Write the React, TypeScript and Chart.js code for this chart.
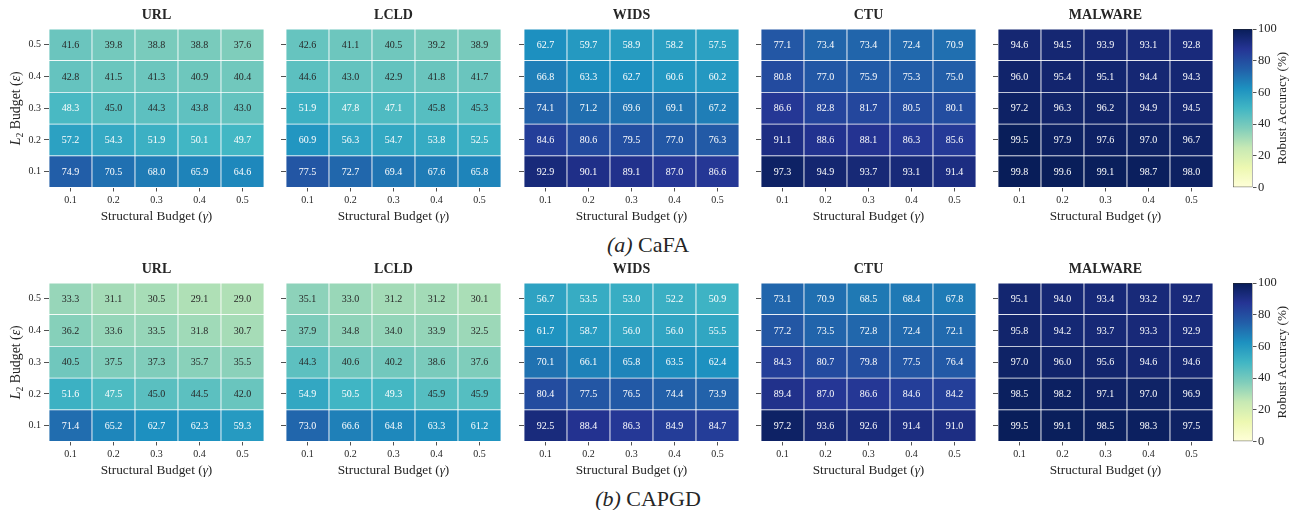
import React, { useEffect, useRef } from "react";
import { Chart, registerables } from "chart.js";

Chart.register(...registerables);

// ---------------- DATA ----------------
const gammaLabels = ["0.1", "0.2", "0.3", "0.4", "0.5"]; // structural budget (x)
const epsLabels = ["0.1", "0.2", "0.3", "0.4", "0.5"]; // L2 budget (y), bottom to top
const datasetNames = ["URL", "LCLD", "WIDS", "CTU", "MALWARE"];
const colorbarTicks = [0, 20, 40, 60, 80, 100];
const attackCaptions = ["CaFA", "CAPGD"];
const captionTags = ["(a)", "(b)"];

// Matrices: rows listed top (eps 0.5) to bottom (eps 0.1); columns gamma 0.1..0.5
const cafaURL = [
  [41.6, 39.8, 38.8, 38.8, 37.6],
  [42.8, 41.5, 41.3, 40.9, 40.4],
  [48.3, 45.0, 44.3, 43.8, 43.0],
  [57.2, 54.3, 51.9, 50.1, 49.7],
  [74.9, 70.5, 68.0, 65.9, 64.6],
];
const cafaLCLD = [
  [42.6, 41.1, 40.5, 39.2, 38.9],
  [44.6, 43.0, 42.9, 41.8, 41.7],
  [51.9, 47.8, 47.1, 45.8, 45.3],
  [60.9, 56.3, 54.7, 53.8, 52.5],
  [77.5, 72.7, 69.4, 67.6, 65.8],
];
const cafaWIDS = [
  [62.7, 59.7, 58.9, 58.2, 57.5],
  [66.8, 63.3, 62.7, 60.6, 60.2],
  [74.1, 71.2, 69.6, 69.1, 67.2],
  [84.6, 80.6, 79.5, 77.0, 76.3],
  [92.9, 90.1, 89.1, 87.0, 86.6],
];
const cafaCTU = [
  [77.1, 73.4, 73.4, 72.4, 70.9],
  [80.8, 77.0, 75.9, 75.3, 75.0],
  [86.6, 82.8, 81.7, 80.5, 80.1],
  [91.1, 88.6, 88.1, 86.3, 85.6],
  [97.3, 94.9, 93.7, 93.1, 91.4],
];
const cafaMALWARE = [
  [94.6, 94.5, 93.9, 93.1, 92.8],
  [96.0, 95.4, 95.1, 94.4, 94.3],
  [97.2, 96.3, 96.2, 94.9, 94.5],
  [99.5, 97.9, 97.6, 97.0, 96.7],
  [99.8, 99.6, 99.1, 98.7, 98.0],
];
const capgdURL = [
  [33.3, 31.1, 30.5, 29.1, 29.0],
  [36.2, 33.6, 33.5, 31.8, 30.7],
  [40.5, 37.5, 37.3, 35.7, 35.5],
  [51.6, 47.5, 45.0, 44.5, 42.0],
  [71.4, 65.2, 62.7, 62.3, 59.3],
];
const capgdLCLD = [
  [35.1, 33.0, 31.2, 31.2, 30.1],
  [37.9, 34.8, 34.0, 33.9, 32.5],
  [44.3, 40.6, 40.2, 38.6, 37.6],
  [54.9, 50.5, 49.3, 45.9, 45.9],
  [73.0, 66.6, 64.8, 63.3, 61.2],
];
const capgdWIDS = [
  [56.7, 53.5, 53.0, 52.2, 50.9],
  [61.7, 58.7, 56.0, 56.0, 55.5],
  [70.1, 66.1, 65.8, 63.5, 62.4],
  [80.4, 77.5, 76.5, 74.4, 73.9],
  [92.5, 88.4, 86.3, 84.9, 84.7],
];
const capgdCTU = [
  [73.1, 70.9, 68.5, 68.4, 67.8],
  [77.2, 73.5, 72.8, 72.4, 72.1],
  [84.3, 80.7, 79.8, 77.5, 76.4],
  [89.4, 87.0, 86.6, 84.6, 84.2],
  [97.2, 93.6, 92.6, 91.4, 91.0],
];
const capgdMALWARE = [
  [95.1, 94.0, 93.4, 93.2, 92.7],
  [95.8, 94.2, 93.7, 93.3, 92.9],
  [97.0, 96.0, 95.6, 94.6, 94.6],
  [98.5, 98.2, 97.1, 97.0, 96.9],
  [99.5, 99.1, 98.5, 98.3, 97.5],
];

const cafaMatrices = [cafaURL, cafaLCLD, cafaWIDS, cafaCTU, cafaMALWARE];
const capgdMatrices = [capgdURL, capgdLCLD, capgdWIDS, capgdCTU, capgdMALWARE];

// ---------------- STYLE / LAYOUT ----------------
const FONT = "'Liberation Serif', 'DejaVu Serif', serif";
const DARK = "#262626";
const YLGNBU = ["#ffffd9", "#edf8b1", "#c7e9b4", "#7fcdbb", "#41b6c4", "#1d91c0", "#225ea8", "#253494", "#081d58"];

const HEAT_LEFTS = [49, 286, 524, 761, 998];
const ROW_TOPS = [0, 254];
const PAD_T = 29;
const HEAT_W = 215;
const X_AXIS_H = 40.5;
const CANVAS_H = 228;
const CBAR_LEFT = 1233;
const CBAR_W = 19.5;
const CBAR_CANVAS_W = 58;

function hexToRgb(h: string): number[] {
  const n = parseInt(h.slice(1), 16);
  return [(n >> 16) & 255, (n >> 8) & 255, n & 255];
}
const YLGNBU_RGB = YLGNBU.map(hexToRgb);

function cmap(t: number): number[] {
  const c = Math.max(0, Math.min(1, t));
  const p = c * (YLGNBU_RGB.length - 1);
  const i = Math.min(YLGNBU_RGB.length - 2, Math.floor(p));
  const f = p - i;
  const a = YLGNBU_RGB[i];
  const b = YLGNBU_RGB[i + 1];
  return [0, 1, 2].map((k) => a[k] + (b[k] - a[k]) * f);
}
function rgbStr(c: number[]) {
  return `rgb(${Math.round(c[0])},${Math.round(c[1])},${Math.round(c[2])})`;
}
function luminance(c: number[]) {
  const l = c.map((v) => {
    const s = v / 255;
    return s <= 0.03928 ? s / 12.92 : Math.pow((s + 0.055) / 1.055, 2.4);
  });
  return 0.2126 * l[0] + 0.7152 * l[1] + 0.0722 * l[2];
}

type Seg = { t: string; italic?: boolean; bold?: boolean; sub?: boolean };

function drawRich(ctx: CanvasRenderingContext2D, segs: Seg[], size: number, x: number, y: number, rot = 0) {
  ctx.save();
  ctx.translate(x, y);
  if (rot) ctx.rotate(rot);
  ctx.textAlign = "left";
  ctx.textBaseline = "alphabetic";
  ctx.fillStyle = DARK;
  const fonts = segs.map(
    (s) => `${s.italic ? "italic " : ""}${s.bold ? "bold " : ""}${s.sub ? size * 0.7 : size}px ${FONT}`
  );
  const widths = segs.map((s, i) => {
    ctx.font = fonts[i];
    return ctx.measureText(s.t).width;
  });
  const total = widths.reduce((a, b) => a + b, 0);
  let cx = -total / 2;
  segs.forEach((s, i) => {
    ctx.font = fonts[i];
    ctx.fillText(s.t, cx, s.sub ? size * 0.22 : 0);
    cx += widths[i];
  });
  ctx.restore();
}

const X_TITLE: Seg[] = [{ t: "Structural Budget (" }, { t: "γ", italic: true }, { t: ")" }];
const Y_TITLE: Seg[] = [
  { t: "L", italic: true },
  { t: "2", sub: true },
  { t: " Budget (" },
  { t: "ε", italic: true },
  { t: ")" },
];
const CBAR_TITLE: Seg[] = [{ t: "Robust Accuracy (%)" }];

function HeatPanel(props: { title: string; matrix: number[][]; showY: boolean; heatLeft: number; top: number }) {
  const { title, matrix, showY, heatLeft, top } = props;
  const ref = useRef<HTMLCanvasElement>(null);
  const padL = showY ? heatLeft : 8;
  const W = padL + HEAT_W + 4;

  useEffect(() => {
    if (!ref.current) return;
    const datasets = epsLabels.map((eps, i) => {
      const row = matrix[matrix.length - 1 - i];
      return {
        label: eps,
        data: gammaLabels.map((g, j) => ({ x: g, y: 1, v: row[j] })),
        backgroundColor: (c: any) => rgbStr(cmap((c.raw ? c.raw.v : 0) / 100)),
        borderColor: "#ffffff",
        borderWidth: 0.75,
        borderSkipped: false,
        categoryPercentage: 1,
        barPercentage: 1,
        stack: "cells",
      };
    });

    const annotate = {
      id: "annotate",
      afterDraw(chart: any) {
        const ctx: CanvasRenderingContext2D = chart.ctx;
        const a = chart.chartArea;
        ctx.save();
        ctx.font = `10px ${FONT}`;
        ctx.textAlign = "center";
        ctx.textBaseline = "middle";
        chart.data.datasets.forEach((ds: any, di: number) => {
          const meta = chart.getDatasetMeta(di);
          meta.data.forEach((el: any, j: number) => {
            const v = ds.data[j].v;
            const col = cmap(v / 100);
            ctx.fillStyle = luminance(col) > 0.416 ? DARK : "#ffffff";
            ctx.fillText(v.toFixed(1), el.x, (el.y + el.base) / 2 + 0.5);
          });
        });
        ctx.restore();
        const cx = (a.left + a.right) / 2;
        drawRich(ctx, [{ t: title, bold: true }], 14, cx, a.top - 10.5);
        drawRich(ctx, X_TITLE, 13.3, cx, a.bottom + 32);
        if (showY) drawRich(ctx, Y_TITLE, 13.8, 19.5, (a.top + a.bottom) / 2, -Math.PI / 2);
      },
    };

    const chart = new Chart(ref.current, {
      type: "bar",
      data: { labels: gammaLabels, datasets: datasets as any },
      options: {
        animation: false,
        responsive: false,
        maintainAspectRatio: false,
        devicePixelRatio: 1,
        layout: { padding: { top: PAD_T, left: 0, right: 4, bottom: 0 } },
        plugins: { legend: { display: false }, title: { display: false }, tooltip: { enabled: false } },
        scales: {
          x: {
            type: "category",
            stacked: true,
            grid: {
              display: true,
              offset: false,
              drawOnChartArea: false,
              drawTicks: true,
              tickLength: 4,
              color: DARK,
              lineWidth: 0.8,
            },
            border: { display: false },
            ticks: { font: { family: FONT, size: 10 }, color: DARK, padding: 3, maxRotation: 0 },
            afterFit: (s: any) => {
              s.height = X_AXIS_H;
            },
          },
          y: {
            type: "linear",
            stacked: true,
            min: 0,
            max: epsLabels.length,
            afterBuildTicks: (s: any) => {
              s.ticks = epsLabels.map((_, i) => ({ value: i + 0.5 }));
            },
            grid: { display: true, drawOnChartArea: false, drawTicks: true, tickLength: 5, color: DARK, lineWidth: 0.8 },
            border: { display: false },
            ticks: {
              display: showY,
              font: { family: FONT, size: 10 },
              color: DARK,
              padding: 3,
              callback: (v: any) => epsLabels[Math.floor(Number(v))],
            },
            afterFit: (s: any) => {
              s.width = padL;
            },
          },
        },
      },
      plugins: [annotate],
    });
    return () => chart.destroy();
  }, []);

  return (
    <canvas
      ref={ref}
      width={W}
      height={CANVAS_H}
      style={{ position: "absolute", left: heatLeft - padL, top, width: W, height: CANVAS_H }}
    />
  );
}

function ColorBar(props: { top: number }) {
  const ref = useRef<HTMLCanvasElement>(null);
  useEffect(() => {
    if (!ref.current) return;
    const cmax = colorbarTicks[colorbarTicks.length - 1];
    const cmin = colorbarTicks[0];
    const titlePlugin = {
      id: "cbarTitle",
      afterDraw(chart: any) {
        const a = chart.chartArea;
        drawRich(chart.ctx, CBAR_TITLE, 13, 53, (a.top + a.bottom) / 2, -Math.PI / 2);
      },
    };
    const chart = new Chart(ref.current, {
      type: "bar",
      data: {
        labels: [""],
        datasets: [
          {
            data: [cmax],
            backgroundColor: (c: any) => {
              const ch = c.chart;
              if (!ch.chartArea) return YLGNBU[4];
              const ys = ch.scales.y;
              const g = ch.ctx.createLinearGradient(0, ys.getPixelForValue(cmin), 0, ys.getPixelForValue(cmax));
              YLGNBU.forEach((col, k) => g.addColorStop(k / (YLGNBU.length - 1), col));
              return g;
            },
            borderColor: DARK,
            borderWidth: 0.8,
            borderSkipped: false,
            categoryPercentage: 1,
            barPercentage: 1,
          } as any,
        ],
      },
      options: {
        animation: false,
        responsive: false,
        maintainAspectRatio: false,
        devicePixelRatio: 1,
        layout: { padding: { top: PAD_T, left: 0, right: 0, bottom: X_AXIS_H } },
        plugins: { legend: { display: false }, title: { display: false }, tooltip: { enabled: false } },
        scales: {
          x: { display: false },
          y: {
            position: "right",
            min: cmin,
            max: cmax,
            afterBuildTicks: (s: any) => {
              s.ticks = colorbarTicks.map((v) => ({ value: v }));
            },
            grid: { display: true, drawOnChartArea: false, drawTicks: true, tickLength: 4, color: DARK, lineWidth: 0.8 },
            border: { display: false },
            ticks: { font: { family: FONT, size: 12.5 }, color: DARK, padding: 1.5 },
            afterFit: (s: any) => {
              s.width = CBAR_CANVAS_W - CBAR_W;
            },
          },
        },
      },
      plugins: [titlePlugin],
    });
    return () => chart.destroy();
  }, []);
  return (
    <canvas
      ref={ref}
      width={CBAR_CANVAS_W}
      height={CANVAS_H}
      style={{ position: "absolute", left: CBAR_LEFT, top: props.top, width: CBAR_CANVAS_W, height: CANVAS_H }}
    />
  );
}

export default function App() {
  const rows = [cafaMatrices, capgdMatrices];
  const captionTops = [234, 487.5];
  return (
    <div
      style={{
        position: "absolute",
        left: 0,
        top: 0,
        width: 1291,
        height: 510,
        background: "#ffffff",
        overflow: "hidden",
      }}
    >
      {rows.map((mats, r) => (
        <React.Fragment key={r}>
          {mats.map((m, p) => (
            <HeatPanel
              key={p}
              title={datasetNames[p]}
              matrix={m}
              showY={p === 0}
              heatLeft={HEAT_LEFTS[p]}
              top={ROW_TOPS[r]}
            />
          ))}
          <ColorBar top={ROW_TOPS[r]} />
          <div
            style={{
              position: "absolute",
              left: 0,
              width: 1296,
              top: captionTops[r],
              textAlign: "center",
              fontFamily: FONT,
              fontSize: 22,
              lineHeight: "21px",
              color: DARK,
              whiteSpace: "nowrap",
            }}
          >
            <i>{captionTags[r]}</i> {attackCaptions[r]}
          </div>
        </React.Fragment>
      ))}
    </div>
  );
}
